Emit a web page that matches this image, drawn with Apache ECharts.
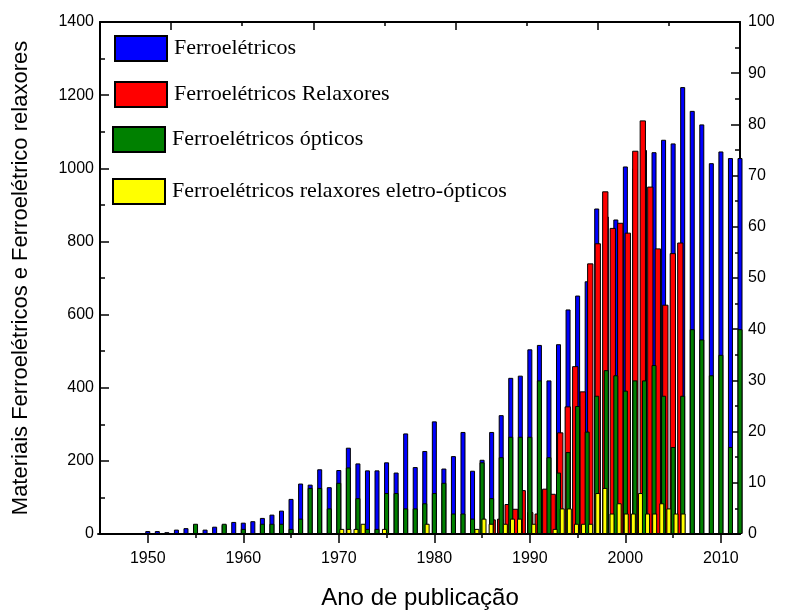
<!DOCTYPE html>
<html><head><meta charset="utf-8">
<script src="https://cdn.jsdelivr.net/npm/echarts@6/dist/echarts.min.js"></script>
<style>html,body{margin:0;padding:0;background:#fff}#c{width:787px;height:615px}</style>
</head><body><div id="c"></div>
<script>
// Years (bottom axis) for Ferroelétricos and Ferroelétricos ópticos
const years = [1945,1946,1947,1948,1949,1950,1951,1952,1953,1954,1955,1956,1957,1958,1959,
  1960,1961,1962,1963,1964,1965,1966,1967,1968,1969,1970,1971,1972,1973,1974,1975,1976,1977,
  1978,1979,1980,1981,1982,1983,1984,1985,1986,1987,1988,1989,1990,1991,1992,1993,1994,1995,
  1996,1997,1998,1999,2000,2001,2002,2003,2004,2005,2006,2007,2008,2009,2010,2011,2012];
// Ferroelétricos (left axis)
const ferro = [0,2,2,2,2,8,8,5,12,16,25,12,20,25,33,
  31,35,44,53,64,96,138,135,177,128,175,236,193,174,174,196,168,275,
  183,227,308,179,213,279,173,203,279,325,427,433,505,517,420,519,614,652,
  691,890,868,860,1005,1000,1050,1044,1078,1068,1222,1157,1120,1014,1046,1028,1028];
// Ferroelétricos ópticos (right axis)
const opticos = [0,0,0,0,0,0,0,0,0,0,2,0,0,2,0,
  1,0,2,2,2,1,3,9,9,5,10,13,7,1,1,8,8,5,
  5,6,8,10,4,4,3,14,7,15,19,19,19,30,15,12,16,25,
  20,27,32,31,28,30,30,33,27,17,27,40,38,31,35,17,40];
// Ferroelétricos Relaxores (left axis, own x layer)
const relaxPos = [0,1,2,3,4,5,6,7,8,9,10,11,12,13,14,15,16,17,18,19,20,21,22,23,24,25];
const relax = [40,42,82,69,120,60,56,124,110,278,349,459,390,740,795,937,837,851,824,1048,1131,950,781,627,768,797];
// Ferroelétricos relaxores eletro-ópticos (right axis, top x layer)
const eletroPos = [4,5,6,7,8,9,10,11,12,13,14,15,16,17,18,19,20,21,22,23,24,25,26,27,28,29,
  30,31,32,33,34,35,36,37,38,39,40,41,42,43,44,45,46,47,48,49,50,51,52];
const eletro = [1,1,1,2,0,0,1,0,0,0,0,0,2,0,0,0,0,0,0,1,3,2,0,2,3,3,0,2,0,0,
  1,5,5,2,2,2,8,9,4,6,4,4,8,4,4,6,5,4,4];
// Tick labels
const xLabels = [1950,1960,1970,1980,1990,2000,2010];
const xMinor = [1955,1965,1975,1985,1995,2005];
const topMajor = [-20,0,20,40];
const topMinor = [-10,10,30,50];

const names = ['Ferroelétricos','Ferroelétricos Relaxores','Ferroelétricos ópticos','Ferroelétricos relaxores eletro-ópticos'];
const sans = 'Liberation Sans, Arial, sans-serif';
const serif = 'Liberation Serif, Times New Roman, serif';
const axisLine = {show:true, onZero:false, lineStyle:{color:'#000', width:2}};
const noLine = {show:false, onZero:false};
const tickStyle = {color:'#000', width:1.5};
const plain = v => String(v);

const chart = echarts.init(document.getElementById('c'), null, {renderer:'canvas'});
const legendBase = (name, left, top) => ({
  data:[name], left:left, top:top, orient:'vertical', itemWidth:52, itemHeight:25, icon:'rect',
  selectedMode:false,
  textStyle:{fontFamily:serif, fontSize:22, color:'#000', lineHeight:25, padding:[0,0,0,2]}
});
chart.setOption({
  animation:false,
  backgroundColor:'#fff',
  grid:{left:100, right:47, top:22, bottom:77, containLabel:false},
  legend:[
    legendBase(names[0],109,30),
    legendBase(names[1],109,76),
    legendBase(names[2],107,121),
    legendBase(names[3],107,173)
  ],
  xAxis:[
    {type:'value', position:'bottom', min:1945, max:2012,
     axisLine:axisLine, splitLine:{show:false},
     axisTick:{show:true, inside:false, length:9, lineStyle:tickStyle, customValues:xLabels},
     axisLabel:{show:true, customValues:xLabels, formatter:plain, fontFamily:sans, fontSize:16, color:'#000', margin:17},
     name:'Ano de publicação', nameLocation:'middle', nameGap:52,
     nameTextStyle:{fontFamily:sans, fontSize:24, color:'#000'}},
    {type:'value', position:'top', min:-30, max:60,
     axisLine:axisLine, splitLine:{show:false},
     axisTick:{show:true, inside:true, length:8, lineStyle:tickStyle, customValues:topMajor},
     axisLabel:{show:false}},
    {type:'value', position:'top', min:-52.32, max:32.95, show:false, axisLine:noLine},
    {type:'value', position:'bottom', min:1945, max:2012,
     axisLine:noLine, splitLine:{show:false},
     axisTick:{show:true, inside:false, length:4, lineStyle:tickStyle, customValues:xMinor},
     axisLabel:{show:false}},
    {type:'value', position:'top', min:-30, max:60,
     axisLine:noLine, splitLine:{show:false},
     axisTick:{show:true, inside:true, length:4, lineStyle:tickStyle, customValues:topMinor},
     axisLabel:{show:false}}
  ],
  yAxis:[
    {type:'value', position:'left', min:0, max:1400, interval:200,
     axisLine:axisLine, splitLine:{show:false},
     axisTick:{show:true, inside:true, length:9, lineStyle:tickStyle},
     minorTick:{show:true, splitNumber:2, length:5, lineStyle:tickStyle},
     axisLabel:{formatter:plain, fontFamily:sans, fontSize:16, color:'#000', margin:6},
     name:'Materiais Ferroelétricos e Ferroelétrico relaxores', nameLocation:'middle', nameGap:68,
     nameTextStyle:{fontFamily:sans, fontSize:22, color:'#000'}},
    {type:'value', position:'right', min:0, max:100, interval:10,
     axisLine:axisLine, splitLine:{show:false},
     axisTick:{show:true, inside:true, length:9, lineStyle:tickStyle},
     minorTick:{show:true, splitNumber:2, length:5, lineStyle:tickStyle},
     axisLabel:{formatter:plain, fontFamily:sans, fontSize:16, color:'#000', margin:8}}
  ],
  series:[
    {name:names[0], type:'bar', xAxisIndex:0, yAxisIndex:0, barWidth:5, barGap:'-100%', z:2, clip:true,
     itemStyle:{color:'#0000ff', borderColor:'#000', borderWidth:1},
     data:years.map((y,i)=>[y, ferro[i]])},
    {name:names[1], type:'bar', xAxisIndex:2, yAxisIndex:0, barWidth:6.3, z:3, clip:true,
     itemStyle:{color:'#ff0000', borderColor:'#000', borderWidth:1},
     data:relaxPos.map((p,i)=>[p, relax[i]])},
    {name:names[2], type:'bar', xAxisIndex:0, yAxisIndex:1, barWidth:5, barGap:'-100%', z:4, clip:true,
     itemStyle:{color:'#008000', borderColor:'#000', borderWidth:1},
     data:years.map((y,i)=>[y, opticos[i]])},
    {name:names[3], type:'bar', xAxisIndex:1, yAxisIndex:1, barWidth:5, z:5, clip:true,
     itemStyle:{color:'#ffff00', borderColor:'#000', borderWidth:1},
     data:eletroPos.map((p,i)=>[p, eletro[i]])}
  ]
});
</script></body></html>
